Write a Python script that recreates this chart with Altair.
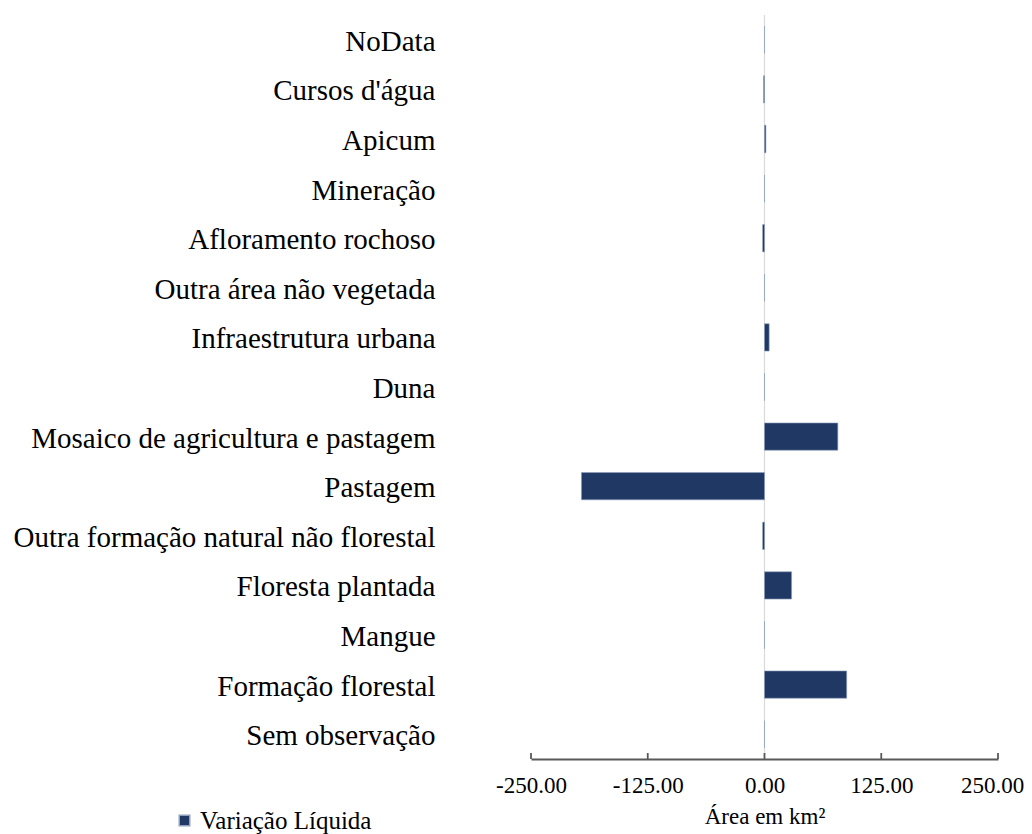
import altair as alt
import pandas as pd

categories = ["NoData", "Cursos d'água", "Apicum", "Mineração", "Afloramento rochoso",
              "Outra área não vegetada", "Infraestrutura urbana", "Duna",
              "Mosaico de agricultura e pastagem", "Pastagem",
              "Outra formação natural não florestal", "Floresta plantada", "Mangue",
              "Formação florestal", "Sem observação"]
values = [0.0, -1.0, 1.5, 0.0, -2.0, 0.0, 5.0, 0.0, 78.5, -196.0, -2.0, 29.0, 0.0, 88.0, 0.0]
series = ["Variação Líquida"] * len(categories)
tick_values = [-250, -125, 0, 125, 250]

df = pd.DataFrame({"cat": categories, "val": values, "serie": series})
ticks_df = pd.DataFrame({"t": tick_values})
zero_df = pd.DataFrame({"z": [0]})

FONT = "Liberation Serif"
W, H = 467, 744

xscale = alt.Scale(domain=[-250, 250], nice=False, zero=False)

bars = alt.Chart(df).mark_bar(color="#1F3864", stroke="#8EA0BE", strokeWidth=0.6).encode(
    x=alt.X("val:Q", scale=xscale,
            axis=alt.Axis(values=tick_values,
                          labelExpr="(datum.value < 0 ? '-' : '') + format(abs(datum.value), '.2f')",
                          title="Área em km²", labelFlush=False, labelOverlap=False,
                          labelOffset={"condition": {"test": "datum.value == 250", "value": -6}, "value": 0},
                          grid=False, ticks=False, domainColor="#595959", domainWidth=1.8,
                          labelFont=FONT, labelFontSize=23, labelColor="#000000",
                          labelPadding=15, titleFont=FONT, titleFontSize=23,
                          titleFontWeight="normal", titleColor="#000000", titlePadding=8)),
    y=alt.Y("cat:N", sort=categories,
            scale=alt.Scale(paddingInner=0.45, paddingOuter=0.225),
            axis=alt.Axis(title=None, domain=False, ticks=False, labelFont=FONT,
                          labelFontSize=29, labelColor="#000000", labelPadding=96,
                          labelLimit=700, labelOffset=2)),
    color=alt.Color("serie:N", scale=alt.Scale(range=["#1F3864"]),
                    legend=alt.Legend(title=None, orient="none", legendX=-359, legendY=793,
                                      symbolType="square", symbolSize=110, labelLimit=400,
                                      labelOffset=3,
                                      labelFont=FONT, labelFontSize=25, labelColor="#000000")),
)

zero = alt.Chart(zero_df).mark_rule(color="#D9D9D9", strokeWidth=1.2).encode(
    x=alt.X("z:Q", scale=xscale), y=alt.value(0), y2=alt.value(H))

tks = alt.Chart(ticks_df).mark_rule(color="#595959", strokeWidth=1.8).encode(
    x=alt.X("t:Q", scale=xscale), y=alt.value(H - 6), y2=alt.value(H))

chart = alt.layer(zero, bars, tks).properties(
    width=W, height=H,
    padding={"left": 523, "top": 7, "right": 26, "bottom": 80},
    autosize=alt.AutoSizeParams(type="none"),
).configure(background="white").configure_view(stroke=None).configure_legend(
    labelFont=FONT, labelFontSize=25)

chart.save("out.html", embed_options={"renderer": "svg", "actions": False})
